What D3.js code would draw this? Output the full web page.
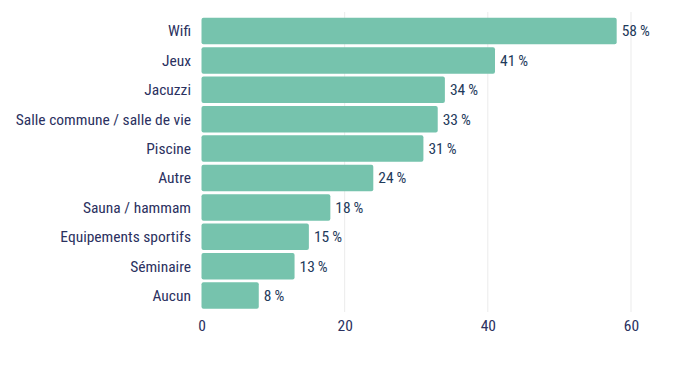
<!DOCTYPE html>
<html><head><meta charset="utf-8">
<script src="https://cdn.jsdelivr.net/npm/d3@7"></script>
<style>
body{margin:0;background:#fff;}
text{font-family:"Liberation Sans Narrow","Roboto Condensed","Liberation Sans",sans-serif;}
</style></head>
<body><svg id="c" width="700" height="367"></svg>
<script>
const categories=["Wifi","Jeux","Jacuzzi","Salle commune / salle de vie","Piscine","Autre","Sauna / hammam","Equipements sportifs","Séminaire","Aucun"];
const values=[58,41,34,33,31,24,18,15,13,8];
const xTicks=[0,20,40,60];

const svg=d3.select("#c");
const x=d3.scaleLinear().domain([0,60]).range([201.5,631]);
const y=d3.scaleBand().domain(categories).range([16.3,310.3]).paddingInner(0.1).paddingOuter(0.05);

svg.append("g").selectAll("line").data(xTicks.filter(d=>d>0)).join("line")
  .attr("x1",d=>x(d)).attr("x2",d=>x(d)).attr("y1",12).attr("y2",312)
  .attr("stroke","#ebebeb").attr("stroke-width",1);

svg.append("g").selectAll("rect").data(values).join("rect")
  .attr("x",x(0)).attr("y",(d,i)=>y(categories[i]))
  .attr("width",d=>x(d)-x(0)).attr("height",y.bandwidth())
  .attr("rx",2).attr("fill","#76c3ad");

svg.append("g").selectAll("text").data(values).join("text")
  .attr("x",d=>x(d)+5).attr("y",(d,i)=>y(categories[i])+y.bandwidth()/2)
  .attr("dy","0.35em").attr("font-size",15.5).attr("fill","#1f3b5c")
  .text(d=>d+"\u2009%");

svg.append("g").selectAll("text").data(categories).join("text")
  .attr("x",191).attr("y",d=>y(d)+y.bandwidth()/2)
  .attr("dy","0.35em").attr("text-anchor","end").attr("font-size",15.5).attr("fill","#2b3160")
  .text(d=>d);

const ax=svg.append("g").attr("transform","translate(0,318)")
  .call(d3.axisBottom(x).tickValues(xTicks).tickSize(0).tickPadding(2));
ax.select(".domain").remove();
ax.selectAll("text").attr("font-size",15.5).attr("fill","#2b3160").style("font-family",'"Liberation Sans Narrow","Roboto Condensed","Liberation Sans",sans-serif');
</script></body></html>
